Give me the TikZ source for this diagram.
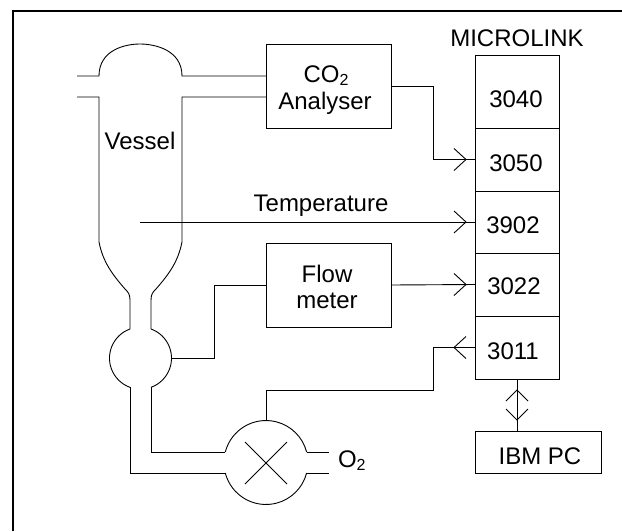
\documentclass[tikz,border=0pt]{standalone}
\usepackage{fontspec}
\setmainfont{Liberation Sans}
\usetikzlibrary{calc}
\newcommand{\subtwo}{\raisebox{-3pt}{\fontsize{16}{16}\selectfont 2}}
\tikzset{
  x=1pt,y=-1pt,
  every node/.style={font=\fontsize{24}{26}\selectfont,inner sep=0pt,outer sep=0pt},
  wire/.style={line width=0.9pt,line join=miter},
  boxed/.style={draw,line width=0.9pt,rectangle,minimum width=#1},
  boxed/.default=84pt,
  txt/.style={anchor=base},
  frameline/.style={line width=2pt}
}
\newcommand{\barbright}[1]{\draw[wire] ($(#1)+(-21pt,11pt)$) -- ($(#1)+(-9pt,0pt)$) -- ($(#1)+(-21pt,-11pt)$);}
\newcommand{\barbleft}[1]{\draw[wire] ($(#1)+(-9pt,11pt)$) -- ($(#1)+(-21pt,0pt)$) -- ($(#1)+(-9pt,-11pt)$);}
\begin{document}
\begin{tikzpicture}
\useasboundingbox (0,0) rectangle (622,531);
% outer frame (top and left edges only)
\draw[frameline] (13,531) -- (13,11) -- (622,11);

% boxes
\node[boxed=125pt,minimum height=84pt] (co2) at (328.5,86) {};
\node[boxed=125pt,minimum height=84pt] (flow) at (328.5,285) {};
\node[boxed,minimum height=73pt] (m3040) at (517,91.5) {};
\node[boxed,minimum height=63pt] (m3050) at (517,159.5) {};
\node[boxed,minimum height=62pt] (m3902) at (517,222) {};
\node[boxed,minimum height=63pt] (m3022) at (517,284.5) {};
\node[boxed,minimum height=63pt] (m3011) at (517,347.5) {};
\node[boxed=126pt,minimum height=42pt] (ibm) at (538,452) {};

% texts
\node[txt] (tvessel) at (140,149) {Vessel};
\node[txt] (tco) at (326,82) {CO\subtwo};
\node[txt] (tan) at (325,109) {Analyser};
\node[txt] (ttemp) at (321,211) {Temperature};
\node[txt] (tflow) at (327,282) {Flow};
\node[txt] (tmeter) at (327,308) {meter};
\node[txt] (tmicro) at (517,46) {MICROLINK};
\node[txt] (t3040) at (516,107) {3040};
\node[txt] (t3050) at (516,171) {3050};
\node[txt] (t3902) at (513,233) {3902};
\node[txt] (t3022) at (514,294) {3022};
\node[txt] (t3011) at (513,359) {3011};
\node[txt] (tibm) at (540,464) {IBM PC};
\node[txt,anchor=base west] (to2) at (338,467) {O\subtwo};

% vessel
\coordinate (vtl) at (99,76);
\coordinate (vtr) at (182,76);
\coordinate (vbl) at (99,97);
\coordinate (vbr) at (182,97);
\draw[wire] (77,76) -- (vtl) .. controls (99,50) and (125,44) .. (140,44)
  .. controls (155,44) and (182,50) .. (vtr) -- (vtr -| co2.west);
\draw[wire] (77,97) -- (vbl) -- (99,242) .. controls (103,262) and (112,274) .. (125,289)
  .. controls (128,292) and (130,294) .. (130,300) -- (130,329);
\draw[wire] (vbr -| co2.west) -- (vbr) -- (182,242) .. controls (178,262) and (169,274) .. (156,289)
  .. controls (153,292) and (151,294) .. (151,300) -- (151,329);

% sensor bulb
\draw[wire] (130,329) arc[start angle=109.8,end angle=250.2,radius=31pt];
\draw[wire] (151,329) arc[start angle=70.2,end angle=-70.2,radius=31pt];
\coordinate (sensor) at (171.5,358);

% pump
\draw[wire] (225.3,452) arc[start angle=165.5,end angle=14.5,radius=42pt];
\draw[wire] (225.3,473) arc[start angle=194.5,end angle=345.5,radius=42pt];
\coordinate (pumptop) at (266,420.5);
\draw[wire] (245,442) -- (287,484);
\draw[wire] (245,484) -- (287,442);
\draw[wire] (151,387) -- (151,452) -- (225.3,452);
\draw[wire] (130,387) -- (130,473) -- (225.3,473);
\draw[wire] (306.7,452) -- (329,452);
\draw[wire] (306.7,473) -- (329,473);

% signal connectors
\draw[wire] (co2.east) -- (433,86) |- (m3050.west);
\barbright{m3050.west}
\coordinate (tstart) at (140,222);
\draw[wire] (tstart) -- (m3902.west);
\barbright{m3902.west}
\draw[wire] (flow.east) -- (m3022.west);
\barbright{m3022.west}
\draw[wire] (sensor) -- (214,358) |- (flow.west);
\draw[wire] (m3011.west) -- (433,347.5) |- (266,390) -- (pumptop);
\barbleft{m3011.west}
\draw[wire] (m3011.south) -- (m3011.south |- ibm.north);
\draw[wire] ($(m3011.south)+(-11pt,-22pt)$) -- ($(m3011.south)+(0pt,-11pt)$) -- ($(m3011.south)+(11pt,-22pt)$);
\draw[wire] ($(m3011.south)+(-11pt,-30pt)$) -- ($(m3011.south)+(0pt,-41pt)$) -- ($(m3011.south)+(11pt,-30pt)$);
\end{tikzpicture}
\end{document}
